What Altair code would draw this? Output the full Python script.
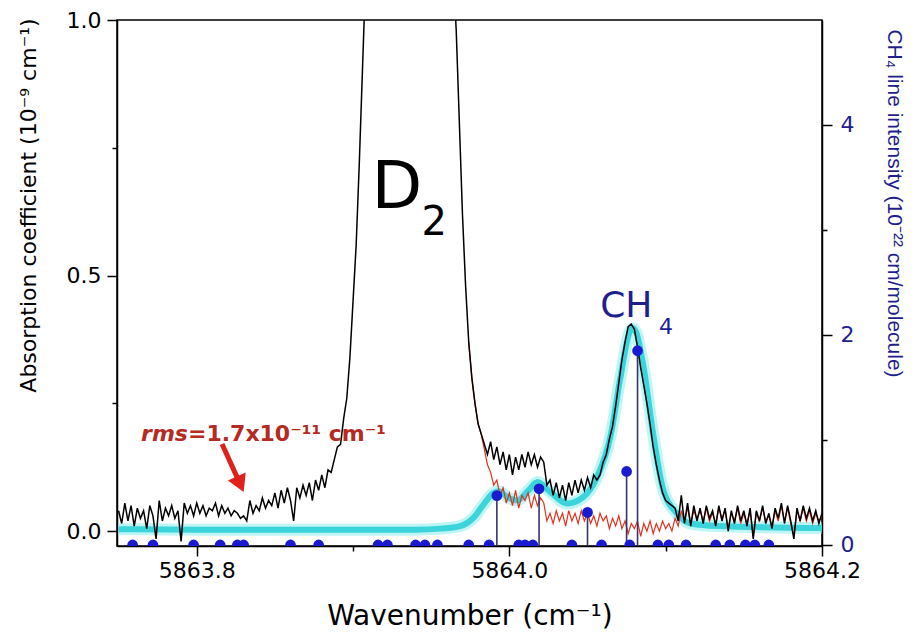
import altair as alt
import pandas as pd

# ---------------- data ----------------
WN_START = 5863.750
WN_STEP = 0.002

# measured absorption spectrum (black), 10^-9 cm^-1, uniform grid
black_base = [0.040, 0.015, 0.055, 0.020, 0.050, 0.010, 0.045, 0.025, 0.040, 0.005,
              0.050, 0.030, -0.015, 0.060, 0.020, 0.045, 0.030, 0.050, 0.025, 0.040,
              -0.020, 0.055, 0.035, 0.050, 0.030, 0.055, 0.035, 0.050, 0.030, 0.045,
              0.040, 0.055, 0.030, 0.050, 0.035, 0.045, 0.030, 0.040]
black_rise1 = [0.035, 0.025, 0.030, 0.020, 0.060, 0.035, 0.050, 0.040, 0.065, 0.045, 0.060]
black_rise2 = [0.050, 0.075, 0.045, 0.080, 0.055, 0.085, 0.060, 0.020, 0.085]
black_rise3 = [0.065, 0.090, 0.070, 0.095, 0.060, 0.100, 0.080, 0.110, 0.085, 0.120, 0.115]
black_d2_left = [0.140, 0.165, 0.170, 0.220, 0.260, 0.340, 0.450, 0.560, 0.720, 0.900, 1.080]
black_d2_top = [1.35, 1.7, 2.1, 2.5, 2.9, 3.2, 3.5, 3.7, 3.9, 4.0, 4.1, 4.15, 4.2, 4.2, 4.2,
                4.15, 4.1, 4.0, 3.8, 3.5, 3.1, 2.7, 2.3, 1.95, 1.65, 1.4, 1.22, 1.1, 0.98]
black_d2_right = [0.80, 0.62, 0.48, 0.37, 0.30, 0.25, 0.21, 0.19]
black_mid = [0.17, 0.15, 0.175, 0.14, 0.165, 0.13, 0.155, 0.12, 0.15, 0.11, 0.145, 0.12,
             0.15, 0.125, 0.155, 0.13, 0.15, 0.125, 0.145, 0.135, 0.09, 0.10, 0.07, 0.095,
             0.065, 0.09, 0.06, 0.095, 0.07, 0.10, 0.075, 0.10, 0.08, 0.105, 0.085, 0.11]
black_ch4 = [0.10, 0.11, 0.135, 0.15, 0.18, 0.205, 0.245, 0.29, 0.335, 0.37, 0.40, 0.405,
             0.395, 0.36, 0.32, 0.285, 0.25, 0.21, 0.165, 0.13, 0.10, 0.075, 0.06, 0.055]
black_tail = [0.05, 0.045, 0.02, 0.07, 0.015, 0.055, 0.01, 0.05, 0.02, 0.045, 0.015, 0.05,
              0.025, 0.04, 0.01, 0.05, 0.02, 0.045, 0.0, 0.04, 0.015, 0.05, 0.02, 0.04,
              0.01, 0.045, -0.015, 0.04, 0.02, 0.05, 0.015, 0.035, 0.005, 0.045, 0.025,
              0.055, 0.015, 0.05, 0.02, -0.015, 0.045, 0.02, 0.05, 0.025, 0.045, 0.02,
              0.04, 0.015, 0.035]
black_vals = (black_base + black_rise1 + black_rise2 + black_rise3 + black_d2_left +
              black_d2_top + black_d2_right + black_mid + black_ch4 + black_tail)

# residual after D2 subtraction (red), starts at grid index 112
RED_START_INDEX = 112
red_a = [0.37, 0.30, 0.25, 0.21, 0.19, 0.16, 0.13]
red_b = [0.115, 0.09, 0.10, 0.07, 0.085, 0.055, 0.075, 0.05, 0.08, 0.045, 0.07, 0.06,
         0.075, 0.045, 0.07, 0.05, 0.065, 0.055]
red_c = [0.02, 0.035, 0.015, 0.04, 0.02, 0.035, 0.01, 0.04, 0.02, 0.035, 0.015, 0.04,
         0.02, 0.035, 0.015, 0.03, 0.01, 0.035, 0.02, 0.03, 0.005, 0.025, 0.01, 0.03,
         0.005, 0.02, -0.005, 0.015, 0.005, 0.02, -0.01, 0.015, 0.0, 0.02, -0.005, 0.015,
         0.0, 0.02, 0.005, 0.015, 0.0, 0.025, 0.01, 0.04]
red_d = [0.02, 0.045, 0.015, 0.04, 0.025, 0.04, 0.02, 0.045, 0.02, 0.035, 0.015, 0.045,
         0.025, 0.04, 0.005, 0.035, 0.02, 0.045, 0.015, 0.035, 0.015, 0.04, -0.01, 0.035,
         0.02, 0.045, 0.02, 0.03, 0.01, 0.04, 0.02, 0.05, 0.02, 0.045, 0.015, -0.01, 0.04,
         0.02, 0.045, 0.02, 0.04, 0.015, 0.035, 0.02, 0.03]
red_vals = red_a + red_b + red_c + red_d

# CH4 model (cyan)
fit_wn = [5863.750, 5863.800, 5863.866, 5863.940, 5863.956, 5863.9685, 5863.977,
          5863.983, 5863.9895, 5863.993, 5863.999, 5864.005, 5864.012, 5864.018,
          5864.026, 5864.037, 5864.047, 5864.056, 5864.065, 5864.071, 5864.077,
          5864.079, 5864.081, 5864.086, 5864.092, 5864.098, 5864.107, 5864.116,
          5864.133, 5864.200]
fit_val = [0.004, 0.003, 0.003, 0.003, 0.005, 0.010, 0.026, 0.050, 0.074, 0.078, 0.066,
           0.060, 0.079, 0.096, 0.077, 0.054, 0.066, 0.105, 0.190, 0.300, 0.390, 0.397,
           0.390, 0.318, 0.190, 0.086, 0.035, 0.015, 0.010, 0.006]

# CH4 line list (10^-22 cm/molecule)
line_wn = [5863.992, 5864.019, 5864.050, 5864.075, 5864.082,
           5863.759, 5863.772, 5863.798, 5863.815, 5863.826, 5863.830, 5863.860,
           5863.878, 5863.916, 5863.922, 5863.940, 5863.946, 5863.954, 5863.974,
           5863.987, 5864.006, 5864.010, 5864.015, 5864.040, 5864.059, 5864.077,
           5864.095, 5864.102, 5864.113, 5864.132, 5864.141, 5864.151, 5864.157,
           5864.166]
line_int = [0.47, 0.535, 0.31, 0.70, 1.85,
            0, 0, 0, 0, 0, 0, 0, 0, 0, 0, 0, 0, 0, 0, 0, 0, 0, 0, 0, 0, 0, 0, 0, 0, 0,
            0, 0, 0, 0]

black_df = pd.DataFrame({"wn": [WN_START + WN_STEP * i for i in range(len(black_vals))],
                         "val": black_vals})
red_df = pd.DataFrame({"wn": [WN_START + WN_STEP * (RED_START_INDEX + i) for i in range(len(red_vals))],
                       "val": red_vals})
fit_df = pd.DataFrame({"wn": fit_wn, "val": fit_val})
lines_df = pd.DataFrame({"wn": line_wn, "intensity": line_int})

# ---------------- styling ----------------
FONT = "DejaVu Sans"
NAVY = "#1e1e8c"
xs = alt.Scale(domain=[5863.749, 5864.2], nice=False, zero=False)
yl = alt.Scale(domain=[-0.029, 1.0], nice=False, zero=False)
yr = alt.Scale(domain=[-0.01, 5.0], nice=False, zero=False)

common_axis = dict(grid=False, domainColor="black", domainWidth=1.5, tickColor="black",
                   tickWidth=1.5, labelFont=FONT, labelFontSize=22,
                   labelOverlap=False, labelFlush=False, titleFontWeight="normal")

x_axis = alt.Axis(
    values=[5863.8, 5863.9, 5864.0, 5864.1, 5864.2],
    labelExpr="round(datum.value*10) % 2 == 0 ? format(datum.value, '.1f') : ''",
    tickSize={"condition": {"test": "round(datum.value*10) % 2 == 0", "value": 10}, "value": 5},
    title="Wavenumber (cm⁻¹)", titleFont=FONT, titleFontSize=28, titleY=78,
    titleBaseline="alphabetic",
    labelPadding=4, labelColor="black", titleColor="black", **common_axis)

y_left_axis = alt.Axis(
    orient="left", values=[0, 0.25, 0.5, 0.75, 1.0],
    labelExpr="round(datum.value*4) % 2 == 0 ? format(datum.value, '.1f') : ''",
    tickSize={"condition": {"test": "round(datum.value*4) % 2 == 0", "value": 10}, "value": 5},
    title="Absorption coefficient (10⁻⁹ cm⁻¹)", titleFont=FONT, titleFontSize=22, titleAngle=-90,
    titleX=-89, titleY=185, titleAlign="center", titleBaseline="middle",
    labelPadding=6, labelColor="black", titleColor="black", **common_axis)

y_right_axis = alt.Axis(
    orient="right", values=[0, 1, 2, 3, 4],
    labelExpr="datum.value % 2 == 0 ? format(datum.value, 'd') : ''",
    tickSize={"condition": {"test": "datum.value % 2 == 0", "value": 10}, "value": 5},
    title="CH₄ line intensity (10⁻²² cm/molecule)", titleFont="Liberation Sans",
    titleFontSize=21, titleAngle=90,
    titleX=71, titleY=183, titleAlign="center", titleBaseline="middle",
    labelPadding=8, labelColor=NAVY, titleColor=NAVY, **common_axis)

X = alt.X("wn:Q", scale=xs, axis=x_axis)
Xn = alt.X("wn:Q", scale=xs)
Y = alt.Y("val:Q", scale=yl, axis=y_left_axis)
Yn = alt.Y("val:Q", scale=yl)

fit_glow = alt.Chart(fit_df).mark_line(color="#8cecef", strokeWidth=12, opacity=0.55,
                                       interpolate="monotone").encode(x=X, y=Y)
fit_core = alt.Chart(fit_df).mark_line(color="#3ad4da", strokeWidth=6,
                                       interpolate="monotone").encode(x=Xn, y=Yn)
red_line = alt.Chart(red_df).mark_line(color="#e0321e", strokeWidth=1.2, clip=True).encode(x=Xn, y=Yn)
black_line = alt.Chart(black_df).mark_line(color="black", strokeWidth=1.5, clip=True).encode(x=Xn, y=Yn)


def label(wn, val, text, **kw):
    df = pd.DataFrame({"wn": [wn], "val": [val], "t": [text]})
    return alt.Chart(df).mark_text(font=FONT, **kw).encode(x=Xn, y=Yn, text="t:N")


d_txt = label(5863.928, 0.632, "D", fontSize=66, color="black", align="center", baseline="alphabetic")
d_sub = label(5863.952, 0.579, "2", fontSize=40, color="black", align="center", baseline="alphabetic")
ch_txt = label(5864.0581, 0.4186, "CH", fontSize=36, color=NAVY, align="left", baseline="alphabetic")
ch_sub = label(5864.0958, 0.3857, "4", fontSize=22, color=NAVY, align="left", baseline="alphabetic")
rms_it = label(5863.7944, 0.1764, "rms", fontSize=22, fontWeight="bold", fontStyle="italic",
               color="#b52a22", align="right", baseline="alphabetic")
rms_rest = label(5863.7944, 0.1764, "=1.7x10⁻¹¹ cm⁻¹", fontSize=22, fontWeight="bold",
                 color="#b52a22", align="left", baseline="alphabetic")

arrow_df = pd.DataFrame({"wn": [5863.8162], "val": [0.1705], "wn2": [5863.8271], "val2": [0.0969]})
arrow_shaft = alt.Chart(arrow_df).mark_rule(color="#e0201a", strokeWidth=5).encode(
    x=Xn, y=Yn, x2="wn2:Q", y2="val2:Q")
arrow_head = alt.Chart(arrow_df).mark_point(shape="triangle", angle=156, size=380, filled=True,
                                            color="#e0201a", opacity=1).encode(x="wn2:Q", y="val2:Q")

left = alt.layer(fit_glow, fit_core, red_line, black_line, d_txt, d_sub, ch_txt, ch_sub,
                 rms_it, rms_rest, arrow_shaft, arrow_head)

stems = alt.Chart(lines_df).mark_rule(color="#34346e", strokeWidth=1.6).encode(
    x=Xn, y=alt.Y("intensity:Q", scale=yr, axis=y_right_axis), y2=alt.datum(0))
dots = alt.Chart(lines_df).mark_circle(size=115, color="#1a1ad0", opacity=1, clip=True).encode(
    x=Xn, y=alt.Y("intensity:Q", scale=yr))
right = alt.layer(stems, dots)

chart = alt.layer(left, right).resolve_scale(y="independent").properties(
    width=705, height=526,
    autosize=alt.AutoSizeParams(type="none"),
    padding={"left": 109, "top": 12, "right": 85, "bottom": 84},
    background="white",
).configure_view(stroke="black", strokeWidth=1.5)

chart.save("out.html", embed_options={"renderer": "svg", "actions": False})
